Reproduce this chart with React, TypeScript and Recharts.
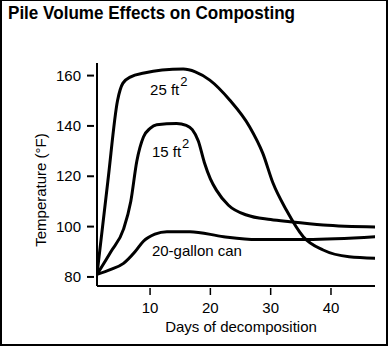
import { LineChart, Line, XAxis, YAxis, ReferenceDot } from "recharts";

// readings (days, °F)
const days25 = [1.2, 3, 4.6, 5.5, 6.8, 9, 12, 15.5, 17.5, 19.9, 23.2, 26.5, 28.7, 30.4, 32.6, 35.4, 38.7, 43, 47.5];
const temp25 = [81, 118, 150, 157, 159.5, 161, 162.2, 162.6, 161.5, 158.2, 150.3, 139.7, 129.1, 117.2, 106.6, 96, 90.7, 88, 87.4];

const days15 = [1.2, 3.5, 5.6, 6.8, 7.8, 8.9, 10, 11.1, 14.4, 16, 17, 18, 19, 20, 21, 23, 26, 30, 33.2, 38.7, 47.5];
const temp15 = [81, 90, 99, 110, 126, 135.6, 139, 140.5, 141, 140.2, 138.5, 134, 125.5, 119, 114.5, 108.5, 104.6, 102.8, 101.9, 100.6, 99.8];

const daysCan = [1.2, 3.5, 5.6, 7.5, 8.9, 10.8, 12.8, 16.6, 22.2, 27.7, 36, 47.5];
const tempCan = [81, 83, 85.4, 90, 94.2, 97, 98, 98, 96, 94.9, 94.9, 96];

const xTicks = [10, 20, 30, 40];
const yTicks = [80, 100, 120, 140, 160];

const toRows = (days: number[], temps: number[]) => days.map((d, i) => ({ day: d, temp: temps[i] }));
const pile25 = toRows(days25, temp25);
const pile15 = toRows(days15, temp15);
const can20 = toRows(daysCan, tempCan);

const FONT = "'Liberation Sans', Arial, Helvetica, sans-serif";

function YTick({ x, y, payload }: any) {
  return (
    <g>
      <line x1={x - 10} x2={x - 3} y1={y} y2={y} stroke="#000" strokeWidth={2} />
      <text x={x - 16} y={y + 5} textAnchor="end" fontSize={15} fontFamily={FONT} fill="#000">
        {payload.value}
      </text>
    </g>
  );
}

function XTick({ x, y, payload }: any) {
  return (
    <g>
      <line x1={x} x2={x} y1={y + 2} y2={y + 9} stroke="#000" strokeWidth={1.5} />
      <text x={x} y={y + 27} textAnchor="middle" fontSize={15} fontFamily={FONT} fill="#000">
        {payload.value}
      </text>
    </g>
  );
}

function CurveLabel({ viewBox, text, sup }: any) {
  const { x, y } = viewBox;
  return (
    <text x={x} y={y} fontSize={15} fontFamily={FONT} fill="#000">
      {text}
      {sup && (
        <tspan dx={1} dy={-9} fontSize={13}>
          {sup}
        </tspan>
      )}
    </text>
  );
}

export default function App() {
  return (
    <div style={{ position: "relative", width: 388, height: 346, background: "#fff" }}>
      <style>{`body{margin:0}`}</style>
      <LineChart
        width={388}
        height={346}
        margin={{ top: 63, right: 13, bottom: 20, left: 37 }}
        style={{ position: "absolute", left: 0, top: 0 }}
      >
        <XAxis
          type="number"
          dataKey="day"
          domain={[1.2, 47.3]}
          ticks={xTicks}
          allowDataOverflow
          height={40}
          axisLine={{ stroke: "#000", strokeWidth: 2 }}
          tickLine={false}
          tickSize={0}
          tickMargin={0}
          tick={<XTick />}
        />
        <YAxis
          type="number"
          domain={[76.4, 165]}
          ticks={yTicks}
          allowDataOverflow
          width={60}
          axisLine={{ stroke: "#000", strokeWidth: 2 }}
          tickLine={false}
          tickSize={0}
          tickMargin={0}
          tick={<YTick />}
        />
        <Line data={pile25} dataKey="temp" type="monotone" stroke="#000" strokeWidth={3} dot={false} isAnimationActive={false} />
        <Line data={pile15} dataKey="temp" type="monotone" stroke="#000" strokeWidth={3} dot={false} isAnimationActive={false} />
        <Line data={can20} dataKey="temp" type="monotone" stroke="#000" strokeWidth={3} dot={false} isAnimationActive={false} />
        <ReferenceDot x={10} y={152.3} r={0} fill="none" stroke="none" label={<CurveLabel text="25 ft" sup="2" />} />
        <ReferenceDot x={10.3} y={127.8} r={0} fill="none" stroke="none" label={<CurveLabel text="15 ft" sup="2" />} />
        <ReferenceDot x={10.3} y={88.3} r={0} fill="none" stroke="none" label={<CurveLabel text="20-gallon can" />} />
      </LineChart>
      <svg width={388} height={346} style={{ position: "absolute", left: 0, top: 0, pointerEvents: "none" }}>
        <text
          x={8}
          y={18.5}
          fontSize={17.5}
          fontWeight="bold"
          fontFamily="'Liberation Sans Narrow', 'Arial Narrow', 'Liberation Sans', sans-serif"
          textLength={287}
          lengthAdjust="spacingAndGlyphs"
          fill="#000"
        >
          Pile Volume Effects on Composting
        </text>
        <text x={241} y={332} textAnchor="middle" fontSize={15} fontFamily={FONT} fill="#000">
          Days of decomposition
        </text>
        <text
          x={45.5}
          y={190}
          transform="rotate(-90 45.5 190)"
          textAnchor="middle"
          fontSize={15}
          fontFamily={FONT}
          fill="#000"
        >
          Temperature (°F)
        </text>
      </svg>
      <div
        style={{
          position: "absolute",
          inset: 0,
          borderStyle: "solid",
          borderColor: "#000",
          borderWidth: "1px 2px 2px 2px",
          pointerEvents: "none",
        }}
      />
    </div>
  );
}
